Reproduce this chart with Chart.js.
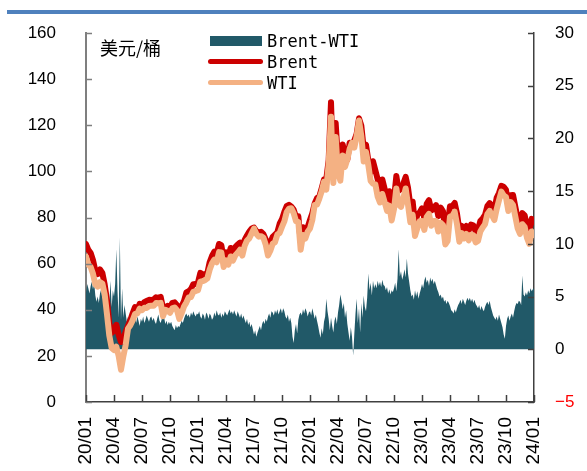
<!DOCTYPE html>
<html>
<head>
<meta charset="utf-8">
<script src="https://cdn.jsdelivr.net/npm/chart.js@4"></script>
<style>
  html, body { margin: 0; padding: 0; background: #fff; overflow: hidden; }
  #wrap { position: relative; width: 587px; height: 471px; overflow: hidden; }
  #topbar { position: absolute; left: 7px; top: 10px; width: 580px; height: 4px; background: #4F81BD; }
  #unit { position: absolute; left: 100px; top: 35px; font: 18px "Noto Sans CJK SC", sans-serif; line-height: 24px; color: #000; }
  .lg { position: absolute; font: 17px "DejaVu Sans Mono", monospace; line-height: 20px; color: #000; left: 267px; }
  .sw { position: absolute; }
  canvas { position: absolute; left: 0; top: 0; }
</style>
</head>
<body>
<div id="wrap">
  <canvas id="c" width="587" height="500"></canvas>
  <div id="topbar"></div>
  <div id="unit">美元/桶</div>
  <div class="sw" style="left:210px;top:36px;width:52px;height:10px;background:#215968"></div>
  <div class="lg" style="top:31px">Brent-WTI</div>
  <div class="sw" style="left:208px;top:59px;width:55px;height:5px;border-radius:3px;background:#CC0000"></div>
  <div class="lg" style="top:52px">Brent</div>
  <div class="sw" style="left:208px;top:80px;width:55px;height:5px;border-radius:3px;background:#F4B183"></div>
  <div class="lg" style="top:73px">WTI</div>
</div>
<script>
// quarter labels on the x axis (one tick every 3 months)
const quarterLabels = ['20/01','20/04','20/07','20/10','21/01','21/04','21/07','21/10',
  '22/01','22/04','22/07','22/10','23/01','23/04','23/07','23/10','24/01'];

// Brent, USD/bbl, 4 points per month (2020/01 .. 2024/01)
const brent = [
  68.5,66.0,64.6,61.5, 57.0,55.5,57.5,56.0, 51.0,44.0,34.0,30.0, 31.0,33.5,29.0,26.0,
  27.5,30.5,33.0,35.5, 38.5,41.2,39.7,42.6, 42.0,43.3,43.8,44.3, 44.2,44.5,45.4,45.1,
  45.6,40.8,40.8,41.7, 40.9,43.0,43.2,42.0, 38.5,41.5,43.8,47.5, 48.0,49.0,51.1,51.2,
  51.8,56.0,55.1,55.4, 55.9,60.6,63.3,65.2, 64.4,68.5,68.0,62.0, 64.9,63.2,66.8,65.4,
  67.2,68.3,69.1,67.0, 70.3,72.2,73.9,75.2, 75.6,74.1,73.5,73.8, 72.9,70.6,66.5,69.0,
  71.6,72.6,73.6,77.3, 79.3,82.4,84.9,85.5, 84.7,83.4,80.3,80.5, 69.5,75.8,73.5,75.8,
  78.9,81.9,86.1,88.4, 89.2,92.7,96.5,96.8, 104.9,130.0,98.0,121.0, 104.7,100.6,111.7,106.7,
  105.1,112.4,111.9,113.4, 116.3,123.0,119.8,110.1, 111.6,104.7,99.6,104.4, 100.5,96.6,92.3,96.5,
  92.4,88.0,91.4,86.2, 88.0,98.0,91.6,92.4, 94.7,97.6,92.9,85.4, 86.9,77.2,81.2,82.2,
  84.0,79.7,85.9,87.5, 83.1,83.7,85.4,80.6, 84.3,82.7,74.7,76.7, 84.9,85.0,86.3,81.7,
  74.5,76.4,75.0,76.3, 74.3,76.9,76.6,73.9, 74.6,78.5,79.6,81.1, 84.9,86.2,84.9,83.2,
  88.5,90.6,93.7,93.3, 92.0,85.0,89.7,89.8, 84.6,79.5,77.4,81.9, 80.9,75.8,74.3,79.4,
  78.0
];

// WTI, USD/bbl, 4 points per month
const wti = [
  63.0,59.6,58.5,55.6, 51.0,50.0,52.0,51.4, 46.8,38.0,28.7,23.4, 22.5,24.0,19.9,14.0,
  19.8,24.7,31.8,33.3, 35.4,38.2,38.4,40.5, 39.8,40.9,40.8,41.6, 41.7,41.7,42.9,42.8,
  43.0,37.2,40.0,39.6, 38.7,40.6,41.0,39.8, 36.0,38.5,41.4,43.1, 45.3,45.5,47.8,48.1,
  48.5,52.2,52.4,52.8, 53.6,57.4,60.1,61.7, 60.6,65.0,64.8,58.5, 61.4,59.6,63.1,61.3,
  63.6,64.7,66.0,63.5, 67.7,70.0,71.0,73.1, 75.2,72.9,71.7,71.9, 71.3,68.3,63.5,65.6,
  68.6,69.3,72.6,73.3, 75.9,78.3,82.3,83.8, 84.0,81.9,78.4,78.0, 66.0,72.4,70.9,73.8,
  75.2,78.9,85.4,85.6, 88.2,91.3,95.5,92.1, 103.4,123.7,95.0,114.9, 99.3,96.0,106.9,101.9,
  105.2,109.8,112.4,110.3, 115.3,122.1,115.3,104.3, 108.4,102.7,95.8,94.7, 94.4,89.0,86.5,90.2,
  86.6,82.9,85.1,78.7, 83.6,92.6,85.6,84.6, 88.4,92.6,85.6,77.9, 81.2,72.0,75.4,78.4,
  78.5,74.6,80.2,81.6, 76.4,78.5,78.5,73.9, 77.7,76.7,68.3,69.9, 80.4,80.7,82.5,77.1,
  69.5,73.2,70.9,72.9, 70.1,72.5,72.3,69.2, 69.8,73.9,75.7,77.1, 81.4,82.9,81.0,78.9,
  83.6,87.5,91.2,89.6, 88.8,82.8,86.7,85.5, 80.4,75.3,72.9,77.1, 75.9,71.2,68.6,73.9,
  72.5
];

// Brent-WTI spread, USD/bbl (right axis), 8 points per month
const spread = [
  5.4,6.2,5.8,5.3,6.0,6.4,5.7,6.3,  5.1,4.5,5.0,4.4,5.3,5.7,4.8,5.6,
  4.5,5.2,3.8,3.0,4.4,6.5,4.0,5.6,  5.0,6.2,9.5,5.5,3.0,10.6,2.8,5.8,
  3.0,4.2,3.4,2.6,3.1,2.4,2.9,2.5,  3.0,2.8,3.3,2.5,3.1,2.7,2.2,2.9,
  2.6,3.1,2.5,2.8,3.2,2.9,2.6,3.0,  3.1,2.7,3.0,2.6,2.4,2.9,3.3,2.7,
  2.5,2.9,3.3,3.0,2.4,2.7,2.3,2.6,  2.4,2.6,2.2,2.0,1.8,2.3,2.0,2.2,
  2.1,2.4,2.7,2.5,2.9,3.2,3.4,3.1,  3.3,3.0,3.5,3.2,3.6,3.3,3.1,3.4,
  3.3,3.6,3.1,2.9,3.4,3.2,2.8,3.5,  3.3,2.9,3.4,3.2,2.8,3.0,3.5,3.1,
  3.7,3.3,3.2,3.5,3.0,3.4,3.1,3.6,  3.4,3.2,3.5,3.8,3.4,3.6,3.3,3.7,
  3.4,3.1,3.6,3.3,3.0,3.4,2.9,3.2,  2.8,2.5,2.9,2.3,2.6,2.1,2.4,1.9,
  1.4,1.8,1.2,1.6,1.9,2.2,1.8,2.4,  2.7,2.4,2.9,2.6,3.1,3.4,3.0,3.6,
  3.5,3.2,3.7,3.4,3.8,3.3,3.6,3.9,  3.4,3.9,3.6,3.1,2.9,3.3,2.6,3.0,
  2.5,1.2,0.6,1.8,2.4,1.5,2.8,3.3,  3.5,3.2,3.8,3.4,3.9,3.6,3.1,3.5,
  3.6,3.2,3.9,3.4,2.9,3.3,2.7,2.2,  1.6,1.1,2.0,1.4,2.6,3.1,4.8,3.6,
  2.9,1.8,3.0,2.2,1.6,2.7,3.1,2.4,  3.5,4.2,5.2,4.6,3.8,4.4,3.0,3.7,
  2.4,1.6,0.8,2.1,1.2,-0.6,1.5,3.4,  4.8,2.5,3.9,1.6,4.4,3.0,5.1,4.0,
  3.6,4.9,7.2,5.6,6.3,5.1,6.5,5.8,  6.2,5.8,6.5,6.0,6.4,5.9,6.6,6.1,
  6.0,5.6,5.9,5.3,5.7,5.2,5.6,5.4,  5.8,6.3,5.5,6.7,9.5,6.9,7.4,6.6,
  7.0,7.6,6.8,8.6,7.2,6.4,5.6,5.0,  5.2,4.7,5.6,5.0,5.5,4.8,5.3,5.7,
  6.2,5.8,6.5,6.9,6.3,6.6,6.0,6.8,  6.4,6.7,6.2,6.5,6.1,5.7,5.4,5.0,
  5.2,4.8,5.0,4.5,4.7,4.3,4.6,4.4,  4.1,3.7,3.6,3.4,3.8,3.5,3.9,4.2,
  4.4,4.7,4.3,4.8,4.5,4.2,4.6,4.9,  4.6,4.9,4.5,4.8,4.4,4.7,4.3,4.1,
  3.9,4.2,3.7,4.1,3.8,3.6,4.0,4.3,  4.5,4.2,4.6,4.0,3.6,3.2,3.0,2.8,
  3.1,2.7,3.3,2.9,2.5,2.1,1.4,1.0,  2.2,2.9,3.2,2.7,3.1,3.4,3.0,3.6,
  4.1,4.4,4.3,4.6,4.5,4.2,7.0,5.2,  5.0,5.4,5.1,5.6,5.3,5.8,5.5,5.7,
  5.8
];

// draws the inward pointing tick marks on all three axes
const innerTicks = {
  id: 'innerTicks',
  afterDraw(chart) {
    const { ctx, chartArea: a, scales } = chart;
    ctx.save();
    ctx.lineWidth = 1.5;
    ctx.beginPath();
    ctx.strokeStyle = '#404040';
    scales.x.ticks.forEach(t => {
      const px = Math.round(scales.x.getPixelForValue(t.value)) + 0.5;
      ctx.moveTo(px, a.bottom);
      ctx.lineTo(px, a.bottom - 7);
    });
    scales.y1.ticks.forEach(t => {
      const py = Math.round(scales.y1.getPixelForValue(t.value)) + 0.5;
      ctx.moveTo(a.right, py);
      ctx.lineTo(a.right - 6, py);
    });
    ctx.stroke();
    ctx.beginPath();
    ctx.strokeStyle = '#7F7F7F';
    scales.y.ticks.forEach(t => {
      const py = Math.round(scales.y.getPixelForValue(t.value)) + 0.5;
      ctx.moveTo(a.left, py);
      ctx.lineTo(a.left + 6, py);
    });
    ctx.stroke();
    ctx.restore();
  }
};

Chart.defaults.font.family = '"Liberation Sans", Arial, sans-serif';
Chart.defaults.color = '#000';

// outward ticks are kept invisible: they only space the labels away from the axes
const hiddenTicks = len => ({ drawOnChartArea: false, drawTicks: true, tickLength: len, tickColor: 'rgba(0,0,0,0)' });

new Chart(document.getElementById('c'), {
  type: 'line',
  data: {
    datasets: [
      {
        label: 'WTI',
        data: wti.map((v, i) => ({ x: i / 4, y: v })),
        yAxisID: 'y',
        borderColor: '#F4B183',
        borderWidth: 6,
        borderJoinStyle: 'round',
        borderCapStyle: 'round',
        pointRadius: 0,
        fill: false,
        order: 1
      },
      {
        label: 'Brent',
        data: brent.map((v, i) => ({ x: i / 4, y: v })),
        yAxisID: 'y',
        borderColor: '#CC0000',
        borderWidth: 6,
        borderJoinStyle: 'round',
        borderCapStyle: 'round',
        pointRadius: 0,
        fill: false,
        order: 2
      },
      {
        label: 'Brent-WTI',
        data: spread.map((v, i) => ({ x: i / 8, y: v })),
        yAxisID: 'y1',
        borderColor: 'rgba(0,0,0,0)',
        borderWidth: 0,
        backgroundColor: '#215968',
        pointRadius: 0,
        fill: 'origin',
        order: 3
      }
    ]
  },
  options: {
    responsive: false,
    animation: false,
    layout: { padding: { top: 33, left: 0, right: 0, bottom: 0 } },
    plugins: { legend: { display: false }, tooltip: { enabled: false } },
    scales: {
      x: {
        type: 'linear',
        min: 0,
        max: 48,
        grid: hiddenTicks(12),
        border: { display: true, color: '#404040', width: 1.5 },
        ticks: {
          stepSize: 3,
          autoSkip: false,
          minRotation: 90,
          maxRotation: 90,
          padding: 3,
          font: { size: 19 },
          callback: v => quarterLabels[v / 3]
        },
        afterFit: s => { s.height = 98; }
      },
      y: {
        position: 'left',
        min: 0,
        max: 160,
        grid: hiddenTicks(27),
        border: { display: true, color: '#7F7F7F', width: 2 },
        ticks: { stepSize: 20, padding: 3, font: { size: 17 } },
        afterFit: s => { s.width = 86; }
      },
      y1: {
        position: 'right',
        min: -5,
        max: 30,
        grid: hiddenTicks(18),
        border: { display: true, color: '#404040', width: 1.5 },
        ticks: {
          stepSize: 5,
          padding: 3,
          font: { size: 17 },
          color: c => (c.tick && c.tick.value === -5 ? '#FF0000' : '#000'),
          callback: v => (v === -5 ? '\u22125' : v)
        },
        afterFit: s => { s.width = 53; }
      }
    }
  },
  plugins: [innerTicks]
});
</script>
</body>
</html>
